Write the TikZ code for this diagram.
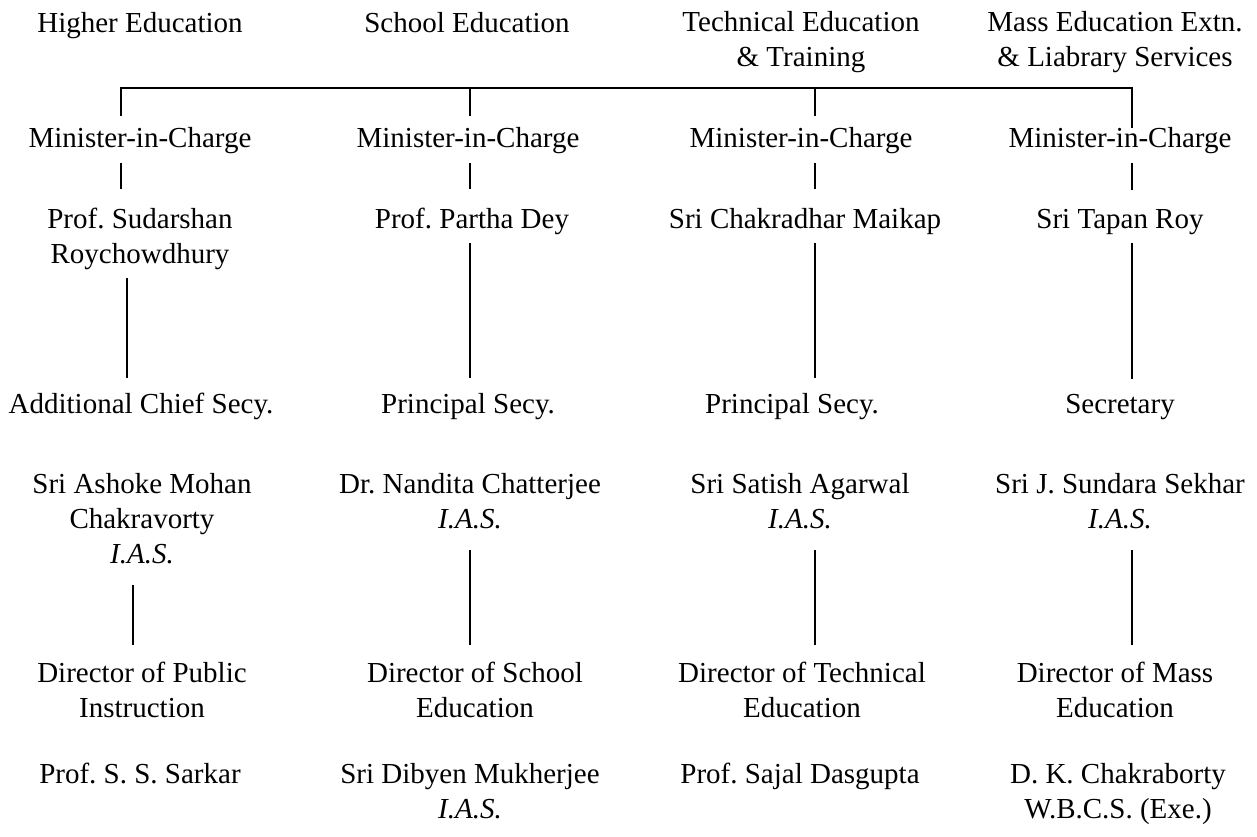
\documentclass[tikz,border=0pt]{standalone}
\usepackage{fontspec}
\setmainfont{Liberation Serif}
\begin{document}
\frenchspacing
\begin{tikzpicture}[x=1pt,y=-1pt,
  lbl/.style={anchor=base,inner sep=0pt,outer sep=0pt,align=center,
    font=\fontsize{29}{35}\selectfont\frenchspacing},
  conn/.style={line width=2.2pt,line cap=butt},
  topgap/.style={shorten <=12pt},
  shortgap/.style={shorten <=9pt,shorten >=19pt},
  longgap/.style={shorten <=9pt,shorten >=15pt},
  lowgap/.style={shorten <=22pt,shorten >=17pt}]
\useasboundingbox (0,0) rectangle (1257,837);
% headers (anchor base = baseline of last line)
\node[lbl] (h1) at (140,33) {Higher Education};
\node[lbl] (h2) at (467,33) {School Education};
\node[lbl] (h3) at (801,67) {Technical Education\\\& Training};
\node[lbl] (h4) at (1115,67) {Mass Education Extn.\\\& Liabrary Services};
% ministers
\node[lbl] (m1) at (140,148) {Minister-in-Charge};
\node[lbl] (m2) at (468,148) {Minister-in-Charge};
\node[lbl] (m3) at (801,148) {Minister-in-Charge};
\node[lbl] (m4) at (1120,148) {Minister-in-Charge};
% minister names
\node[lbl] (n1) at (140,263) {Prof. Sudarshan\\Roychowdhury};
\node[lbl] (n2) at (472,228) {Prof. Partha Dey};
\node[lbl] (n3) at (805,228) {Sri Chakradhar Maikap};
\node[lbl] (n4) at (1120,228) {Sri Tapan Roy};
% secretaries
\node[lbl] (s1) at (141,413) {Additional Chief Secy.};
\node[lbl] (s2) at (468,413) {Principal Secy.};
\node[lbl] (s3) at (792,413) {Principal Secy.};
\node[lbl] (s4) at (1120,413) {Secretary};
% secretary names
\node[lbl] (sn1) at (142,563) {Sri Ashoke Mohan\\Chakravorty\\\textit{I.A.S.}};
\node[lbl] (sn2) at (470,528) {Dr. Nandita Chatterjee\\\textit{I.A.S.}};
\node[lbl] (sn3) at (800,528) {Sri Satish Agarwal\\\textit{I.A.S.}};
\node[lbl] (sn4) at (1120,528) {Sri J. Sundara Sekhar\\\textit{I.A.S.}};
% directors
\node[lbl] (d1) at (142,717) {Director of Public\\Instruction};
\node[lbl] (d2) at (475,717) {Director of School\\Education};
\node[lbl] (d3) at (802,717) {Director of Technical\\Education};
\node[lbl] (d4) at (1115,717) {Director of Mass\\Education};
% director names
\node[lbl] (f1) at (140,783) {Prof. S. S. Sarkar};
\node[lbl] (f2) at (470,818) {Sri Dibyen Mukherjee\\\textit{I.A.S.}};
\node[lbl] (f3) at (800,783) {Prof. Sajal Dasgupta};
\node[lbl] (f4) at (1118,818) {D. K. Chakraborty\\W.B.C.S. (Exe.)};
% line positions
\coordinate (bar) at (0,88);
\coordinate (X1) at (121,0);
\coordinate (X1b) at (127,0);
\coordinate (X1c) at (133,0);
\coordinate (X2) at (470,0);
\coordinate (X3) at (815,0);
\coordinate (X4) at (1132,0);
% top bar
\draw[conn,shorten <=12pt] (m1.north -| X1) -- (bar -| X1) -- (bar -| X4) -- (m4.north -| X4);
\draw[conn,topgap] (m2.north -| X2) -- (bar -| X2);
\draw[conn,topgap] (m3.north -| X3) -- (bar -| X3);
% minister to name
\draw[conn,shortgap] (m1.south -| X1) -- (n1.north -| X1);
\draw[conn,shortgap] (m2.south -| X2) -- (n2.north -| X2);
\draw[conn,shortgap] (m3.south -| X3) -- (n3.north -| X3);
\draw[conn,shortgap] (m4.south -| X4) -- (n4.north -| X4);
% name to secretary
\draw[conn,longgap] (n1.south -| X1b) -- (s1.north -| X1b);
\draw[conn,longgap] (n2.south -| X2) -- (s2.north -| X2);
\draw[conn,longgap] (n3.south -| X3) -- (s3.north -| X3);
\draw[conn,longgap] (n4.south -| X4) -- (s4.north -| X4);
% secretary name to director
\draw[conn,lowgap] (sn1.south -| X1c) -- (d1.north -| X1c);
\draw[conn,lowgap] (sn2.south -| X2) -- (d2.north -| X2);
\draw[conn,lowgap] (sn3.south -| X3) -- (d3.north -| X3);
\draw[conn,lowgap] (sn4.south -| X4) -- (d4.north -| X4);
\end{tikzpicture}
\end{document}
